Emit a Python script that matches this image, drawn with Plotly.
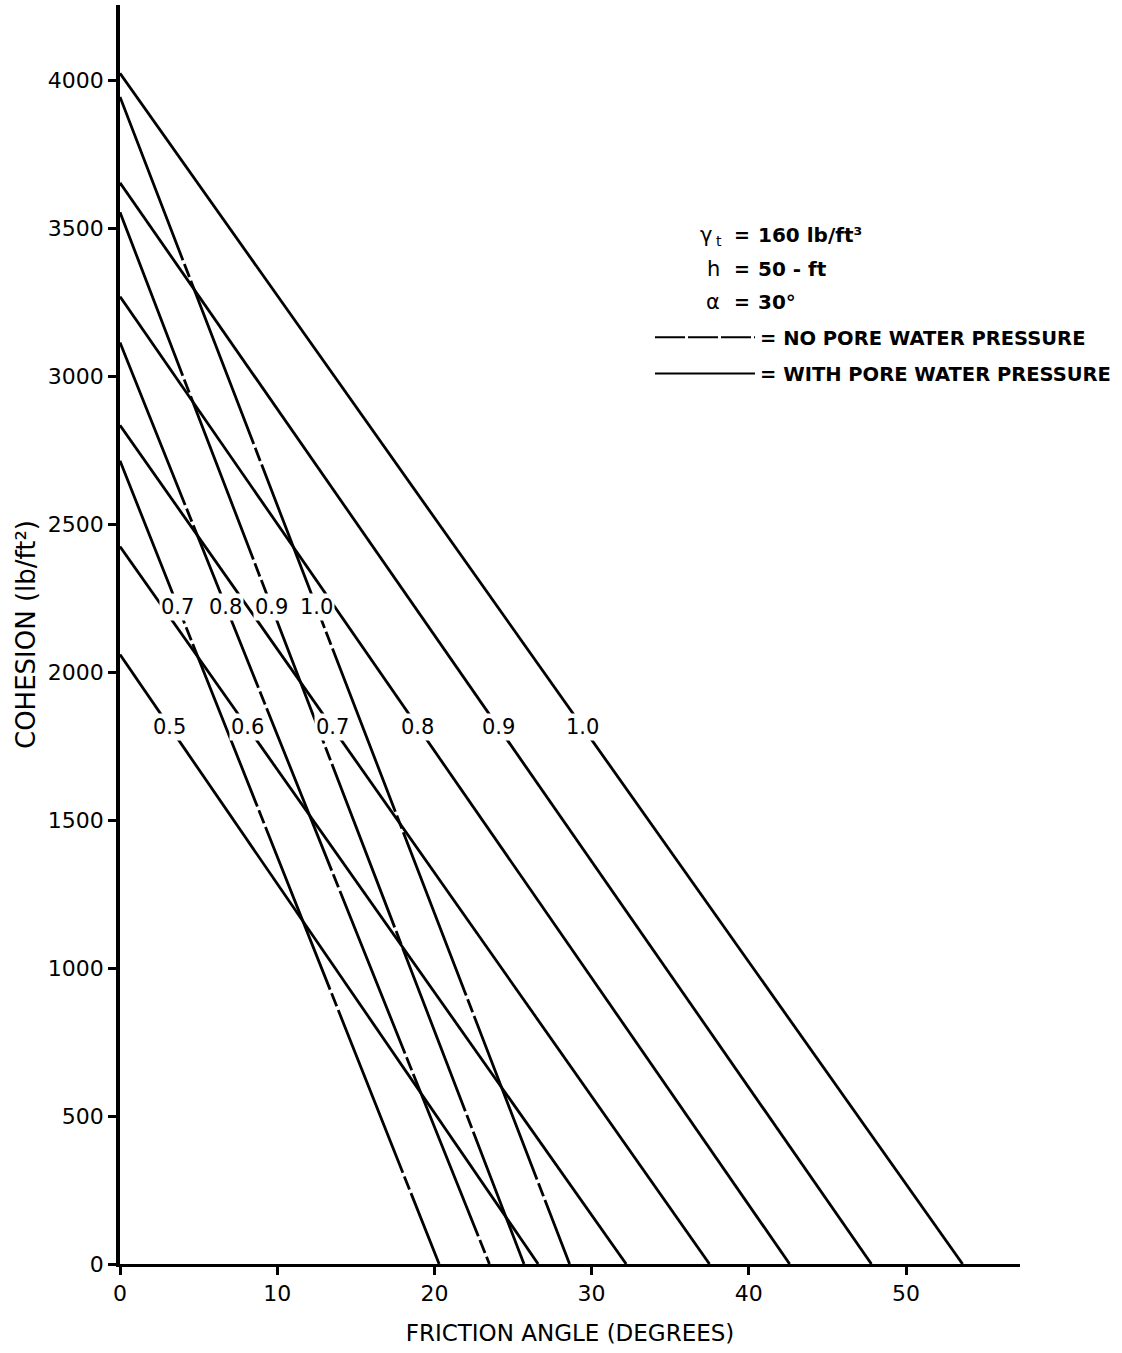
import plotly.graph_objects as go

# ---------------- data ----------------
# lines WITH pore water pressure (solid): ratio label, cohesion at phi=0, phi at c=0
solid_labels = ["0.5", "0.6", "0.7", "0.8", "0.9", "1.0"]
solid_c0 = [2060, 2425, 2835, 3270, 3655, 4025]
solid_phi0 = [26.6, 32.2, 37.5, 42.6, 47.8, 53.6]

# lines with NO pore water pressure (dashed)
dash_labels = ["0.7", "0.8", "0.9", "1.0"]
dash_c0 = [2715, 3115, 3555, 3945]
dash_phi0 = [20.3, 23.5, 25.7, 28.6]

x_ticks = [0, 10, 20, 30, 40, 50]
x_ticktext = ["0", "10", "20", "30", "40", "50"]
y_ticks = [0, 500, 1000, 1500, 2000, 2500, 3000, 3500, 4000]
y_ticktext = ["0", "500", "1000", "1500", "2000", "2500", "3000", "3500", "4000"]

# label rows (cohesion level where the curve labels sit)
dash_label_c = 2222
solid_label_c = 1815

# ---------------- layout constants ----------------
W, H = 1122, 1353
ML, MR, MT, MB = 120, 102, 5, 89
PW, PH = W - ML - MR, H - MT - MB
X_MAX = PW / 15.72
Y_MAX = PH / 0.29583
FONT = "DejaVu Sans"
LINE_W = 2.8
DASH = "175px,4px,14px,4px"


def px_x(p):
    return (p - ML) / PW


def px_y(p):
    return (H - MB - p) / PH


fig = go.Figure()

for lab, c0, p0 in zip(solid_labels, solid_c0, solid_phi0):
    fig.add_trace(go.Scatter(x=[0, p0], y=[c0, 0], mode="lines",
                             line=dict(color="black", width=LINE_W),
                             showlegend=False, hoverinfo="skip"))
for lab, c0, p0 in zip(dash_labels, dash_c0, dash_phi0):
    fig.add_trace(go.Scatter(x=[0, p0], y=[c0, 0], mode="lines",
                             line=dict(color="black", width=LINE_W, dash=DASH),
                             showlegend=False, hoverinfo="skip"))

# legend key entries
fig.add_trace(go.Scatter(x=[None], y=[None], mode="lines", legendgroup="a",
                         line=dict(color="black", width=2, dash="30px,3px"),
                         name="= NO PORE WATER PRESSURE"))
fig.add_trace(go.Scatter(x=[None], y=[None], mode="lines", legendgroup="b",
                         line=dict(color="black", width=2),
                         name="= WITH PORE WATER PRESSURE"))

annotations = []
# curve labels, positioned on each line at the label cohesion level
for lab, c0, p0 in zip(dash_labels, dash_c0, dash_phi0):
    xl = p0 * (1 - dash_label_c / c0)
    annotations.append(dict(x=xl, y=dash_label_c, xref="x", yref="y", text=lab,
                            showarrow=False, bgcolor="white", borderpad=1,
                            font=dict(family=FONT, size=21, color="black")))
for lab, c0, p0 in zip(solid_labels, solid_c0, solid_phi0):
    xl = p0 * (1 - solid_label_c / c0)
    annotations.append(dict(x=xl, y=solid_label_c, xref="x", yref="y", text=lab,
                            showarrow=False, bgcolor="white", borderpad=1,
                            font=dict(family=FONT, size=21, color="black")))

# parameter block
params = [("γ", "160 lb/ft³", 235),
          ("h", "50 - ft", 269),
          ("α", "30°", 302)]
for sym, val, py in params:
    annotations.append(dict(x=px_x(722 if sym != "γ" else 714), y=px_y(py),
                            xref="paper", yref="paper",
                            text=sym, showarrow=False, xanchor="right", yanchor="middle",
                            font=dict(family=FONT, size=21, color="black")))
    annotations.append(dict(x=px_x(742), y=px_y(py), xref="paper", yref="paper",
                            text="=", showarrow=False, xanchor="center", yanchor="middle",
                            font=dict(family=FONT, size=19, color="black", weight="bold")))
    annotations.append(dict(x=px_x(756), y=px_y(py), xref="paper", yref="paper",
                            text=val, showarrow=False, xanchor="left", yanchor="middle",
                            font=dict(family=FONT, size=20, color="black", weight="bold")))
# subscript "t" of gamma
annotations.append(dict(x=px_x(714), y=px_y(241), xref="paper", yref="paper",
                        text="t", showarrow=False, xanchor="left", yanchor="middle",
                        font=dict(family=FONT, size=14, color="black")))

fig.update_layout(
    width=W, height=H,
    margin=dict(l=ML, r=MR, t=MT, b=MB, autoexpand=False),
    paper_bgcolor="white", plot_bgcolor="white",
    font=dict(family=FONT, color="black"),
    annotations=annotations,
    showlegend=True,
    legend=dict(x=px_x(650), y=px_y(318), xanchor="left", yanchor="top",
                itemwidth=100, bgcolor="rgba(0,0,0,0)", tracegroupgap=8,
                traceorder="grouped",
                font=dict(family=FONT, size=19.5, color="black", weight="bold")),
    xaxis=dict(range=[0, X_MAX], showgrid=False, zeroline=False,
               showline=True, linecolor="black", linewidth=3,
               ticks="outside", ticklen=8, tickwidth=2.5, tickcolor="black",
               tickvals=x_ticks, ticktext=x_ticktext,
               tickfont=dict(family=FONT, size=22, color="black"),
               title=dict(text="FRICTION ANGLE (DEGREES)", standoff=20,
                          font=dict(family=FONT, size=23, color="black")),
               automargin=False),
    yaxis=dict(range=[0, Y_MAX], showgrid=False, zeroline=False,
               showline=True, linecolor="black", linewidth=3.8,
               ticks="outside", ticklen=8, tickwidth=2.5, tickcolor="black",
               tickvals=y_ticks, ticktext=y_ticktext,
               tickfont=dict(family=FONT, size=22, color="black"),
               title=dict(text="COHESION (lb/ft²)", standoff=6,
                          font=dict(family=FONT, size=26, color="black")),
               automargin=False),
)

fig.write_html("out.html")
